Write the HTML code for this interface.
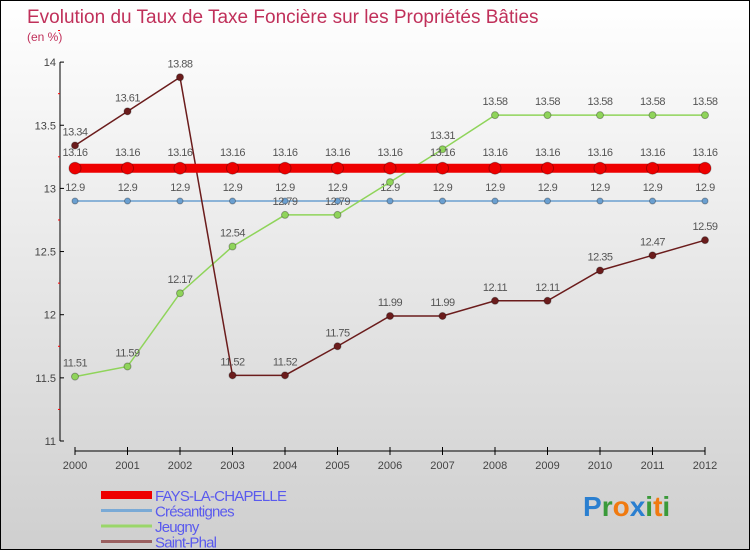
<!DOCTYPE html>
<html><head><meta charset="utf-8"><style>
body{margin:0}
#c{width:750px;height:550px;position:relative;box-sizing:border-box;border:1px solid #000;background:linear-gradient(#ffffff,#cfcfcf);font-family:"Liberation Sans",sans-serif;overflow:hidden}
</style></head><body>
<div id="c">
<svg id="s" width="748" height="548" style="position:absolute;left:0;top:0">
<text x="26" y="22" font-size="19" fill="#c0305a">Evolution du Taux de Taxe Foncière sur les Propriétés Bâties</text>
<text x="26" y="40" font-size="12" fill="#c0305a">(en %)</text>
</svg>
</div>
<script>
const years=[2000,2001,2002,2003,2004,2005,2006,2007,2008,2009,2010,2011,2012];
const fays=[13.16,13.16,13.16,13.16,13.16,13.16,13.16,13.16,13.16,13.16,13.16,13.16,13.16];
const cres=[12.9,12.9,12.9,12.9,12.9,12.9,12.9,12.9,12.9,12.9,12.9,12.9,12.9];
const jeugny=[11.51,11.59,12.17,12.54,12.79,12.79,13.05,13.31,13.58,13.58,13.58,13.58,13.58];
const phal=[13.34,13.61,13.88,11.52,11.52,11.75,11.99,11.99,12.11,12.11,12.35,12.47,12.59];
const yTicks=[11,11.5,12,12.5,13,13.5,14];
const svg=document.getElementById('s');const NS='http://www.w3.org/2000/svg';
const X=i=>74+i*52.5, Y=v=>440-(v-11)*126.3;
function mk(t,a,p){const e=document.createElementNS(NS,t);for(const k in a)e.setAttribute(k,a[k]);(p||svg).appendChild(e);return e;}
let ax=mk('line',{x1:59,y1:Y(14),x2:59,y2:Y(11),stroke:'#000'});

yTicks.forEach(v=>{mk('line',{x1:59,x2:63,y1:Y(v),y2:Y(v),stroke:'#000'});
 mk('line',{x1:57,x2:59,y1:Y(v+0.25),y2:Y(v+0.25),stroke:'#f00'});
 let t=mk('text',{x:55,y:Y(v)+4,'text-anchor':'end','font-size':11,fill:'#444'});t.textContent=String(v);
 });
let xa=mk('line',{x1:X(0),y1:450,x2:X(12),y2:450,stroke:'#000'});

years.forEach((y,i)=>{mk('line',{x1:X(i),x2:X(i),y1:446,y2:454,stroke:'#000'});
 let t=mk('text',{x:X(i),y:468,'text-anchor':'middle','font-size':11,fill:'#444'});t.textContent=y;
 });
function series(vals,col,w,r,name,dy){
 const g=mk('g',{});
 mk('polyline',{points:vals.map((v,i)=>X(i)+','+Y(v)).join(' '),fill:'none',stroke:col,'stroke-width':w},g);
 vals.forEach((v,i)=>{const c=mk('circle',{cx:X(i),cy:Y(v),r:r,fill:col,stroke:'rgba(0,0,0,0.3)'},g);
  
  const t=mk('text',{x:X(i),y:Y(v)+dy,'text-anchor':'middle','font-size':11,fill:'#555','letter-spacing':'-0.5'},g);t.textContent=String(v);});
}
series(cres,'#6a9fd0',1.5,3,'cresantignes',-10);
series(jeugny,'#8fd45a',1.5,3.5,'jeugny',-10);
series(phal,'#6b1c1c',1.5,3.5,'saint-phal',-10);
series(fays,'#ee0000',9,6,'fays',-12);
const leg=[['FAYS-LA-CHAPELLE','#ee0000',8],['Crésantignes','#7aaad6',3],['Jeugny','#9ad66a',3],['Saint-Phal','#9a6060',3]];
leg.forEach((l,i)=>{const g=mk('g',{});
 const y=494+i*15.5;mk('line',{x1:100,x2:151,y1:y,y2:y,stroke:l[1],'stroke-width':l[2]},g);
 const t=mk('text',{x:154,y:y+6,'font-size':15,fill:'#5a5aee','letter-spacing':'-0.8'},g);t.textContent=l[0];});
const lg=mk('text',{x:582,y:515,'font-size':28,'font-weight':'bold'});
[['P','#2a7fd0'],['r','#3a9a3a'],['o','#f07a10'],['x','#2a7fd0'],['i','#3a9a3a'],['t','#f07a10'],['i','#3a9a3a']].forEach(c=>{const s=mk('tspan',{fill:c[1]},lg);s.textContent=c[0];});
</script>
</body></html>
